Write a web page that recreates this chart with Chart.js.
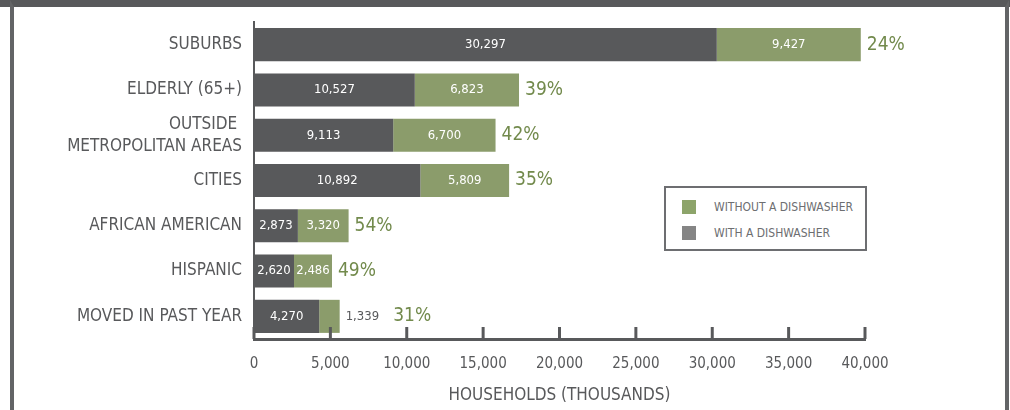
<!DOCTYPE html>
<html>
<head>
<meta charset="utf-8">
<script src="https://cdn.jsdelivr.net/npm/chart.js@4"></script>
<style>
  body { margin: 0; background: #fff; }
  #wrap { position: relative; width: 1010px; height: 410px; overflow: hidden; }
  #frame { position: absolute; left: 10px; top: 0; width: 999px; height: 430px;
    border-left: 4px solid #636466; border-right: 4px solid #636466; border-top: 7px solid #58595b; box-sizing: border-box; }
  #top { position: absolute; left: 0; top: 0; width: 1010px; height: 7px; background: #58595b; }
  #chart { position: absolute; left: 0; top: 0; }
  #legend { position: absolute; left: 664px; top: 186px; width: 203px; height: 65px; box-sizing: border-box;
    border: 2px solid #6d6e71; background: #fff; font-family: "Liberation Sans Narrow", "DejaVu Sans Condensed", sans-serif;
    font-size: 12px; color: #6d6e71; }
  .item { position: absolute; left: 16px; display: flex; align-items: center; }
  .sw { width: 14px; height: 14px; margin-right: 18px; }
</style>
</head>
<body>
<div id="wrap">
  <div id="top"></div>
  <div id="frame"></div>
  <canvas id="chart" width="1010" height="410"></canvas>
  <div id="legend"></div>
</div>
<script>
// datos (miles de hogares)
const categories = ["SUBURBS", "ELDERLY (65+)", ["OUTSIDE ", "METROPOLITAN AREAS"], "CITIES", "AFRICAN AMERICAN", "HISPANIC", "MOVED IN PAST YEAR"];
const withDishwasher = [30297, 10527, 9113, 10892, 2873, 2620, 4270];
const withoutDishwasher = [9427, 6823, 6700, 5809, 3320, 2486, 1339];
const pctWithout = ["24%", "39%", "42%", "35%", "54%", "49%", "31%"];
const xTicks = [0, 5000, 10000, 15000, 20000, 25000, 30000, 35000, 40000];

const FONT = "'Liberation Sans Narrow', 'DejaVu Sans Condensed', sans-serif";
const DARK = "#58595b";
const GREEN = "#8b9c6b";
const PCT_GREEN = "#728a4c";

// leyenda en html
const legendItems = [
  { label: "WITHOUT A DISHWASHER", color: "#8da46a", top: 12 },
  { label: "WITH A DISHWASHER", color: "#858585", top: 38 }
];
document.getElementById("legend").innerHTML = legendItems.map(it =>
  `<div class="item" style="top:${it.top}px"><div class="sw" style="background:${it.color}"></div>${it.label}</div>`
).join("");

const fmt = v => v.toLocaleString("en-US");

// etiquetas de valores y porcentajes
const labelsPlugin = {
  id: "barLabels",
  afterDatasetsDraw(chart) {
    const ctx = chart.ctx;
    const m0 = chart.getDatasetMeta(0).data;
    const m1 = chart.getDatasetMeta(1).data;
    ctx.save();
    ctx.textBaseline = "middle";
    categories.forEach((c, i) => {
      const a = m0[i], b = m1[i];
      ctx.font = "13px " + FONT;
      ctx.textAlign = "center";
      ctx.fillStyle = "#fff";
      ctx.fillText(fmt(withDishwasher[i]), (a.base + a.x) / 2, a.y);
      const t = fmt(withoutDishwasher[i]);
      let end = b.x;
      if (b.x - b.base > ctx.measureText(t).width + 4) {
        ctx.fillText(t, (b.base + b.x) / 2, b.y);
      } else {
        ctx.fillStyle = DARK;
        ctx.textAlign = "left";
        ctx.fillText(t, b.x + 6, b.y);
        end = b.x + 6 + ctx.measureText(t).width + 8;
      }
      ctx.font = "19px " + FONT;
      ctx.textAlign = "left";
      ctx.fillStyle = PCT_GREEN;
      ctx.fillText(pctWithout[i], end + 6, b.y);
    });
    ctx.restore();
  }
};

// marcas del eje x hacia arriba
const tickPlugin = {
  id: "upTicks",
  afterDraw(chart) {
    const ctx = chart.ctx;
    const xs = chart.scales.x;
    const bottom = chart.chartArea.bottom;
    ctx.save();
    ctx.strokeStyle = DARK;
    ctx.lineWidth = 3;
    xTicks.forEach(v => {
      const px = xs.getPixelForValue(v);
      ctx.beginPath();
      ctx.moveTo(px, bottom - 12);
      ctx.lineTo(px, bottom);
      ctx.stroke();
    });
    ctx.restore();
  }
};

new Chart(document.getElementById("chart"), {
  type: "bar",
  data: {
    labels: categories,
    datasets: [
      { label: "WITH A DISHWASHER", data: withDishwasher, backgroundColor: DARK, barPercentage: 0.73, categoryPercentage: 1 },
      { label: "WITHOUT A DISHWASHER", data: withoutDishwasher, backgroundColor: GREEN, barPercentage: 0.73, categoryPercentage: 1 }
    ]
  },
  options: {
    indexAxis: "y",
    responsive: false,
    animation: false,
    layout: { padding: { top: 22, right: 145, left: 0, bottom: 0 } },
    plugins: { legend: { display: false }, tooltip: { enabled: false } },
    scales: {
      x: {
        stacked: true,
        min: 0,
        max: 40000,
        afterBuildTicks(scale) { scale.ticks = xTicks.map(v => ({ value: v })); },
        afterFit(scale) { scale.height = 71; },
        grid: { display: false },
        border: { display: true, color: DARK, width: 3 },
        ticks: {
          color: DARK,
          padding: 8,
          font: { family: FONT, size: 15 },
          callback: v => fmt(v)
        },
        title: {
          display: true,
          text: "HOUSEHOLDS (THOUSANDS)",
          color: DARK,
          font: { family: FONT, size: 17 },
          padding: { top: 13 }
        }
      },
      y: {
        stacked: true,
        afterFit(scale) { scale.width = 254; },
        grid: { display: false },
        border: { display: true, color: DARK, width: 2 },
        ticks: {
          autoSkip: false,
          color: DARK,
          padding: 4,
          font: { family: FONT, size: 17, lineHeight: 1.3 }
        }
      }
    }
  },
  plugins: [labelsPlugin, tickPlugin]
});
</script>
</body>
</html>
